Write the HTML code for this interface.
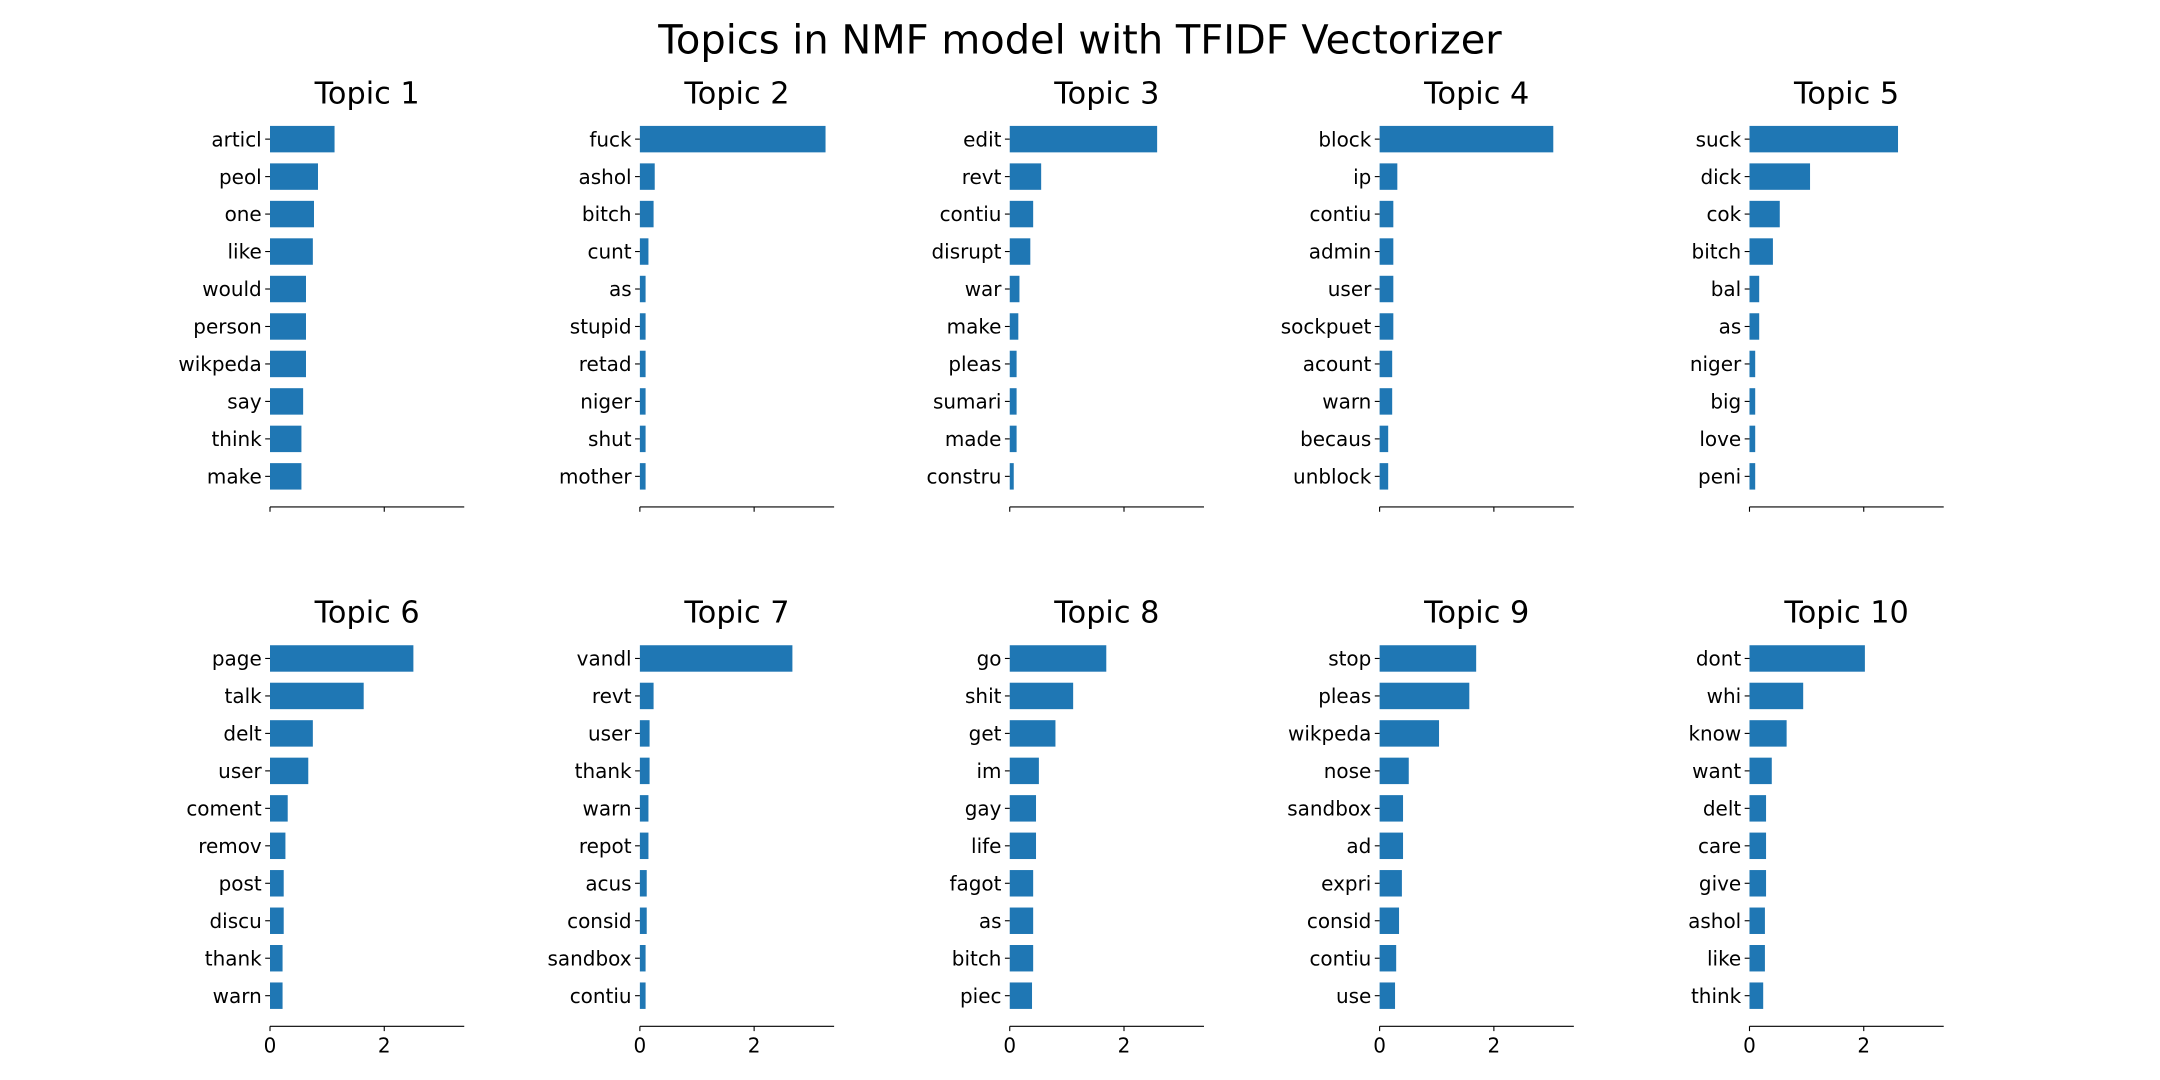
<!DOCTYPE html>
<html><head><meta charset="utf-8"><style>
html,body{margin:0;padding:0;background:#fff;}
svg{display:block;font-family:"DejaVu Sans","Liberation Sans",sans-serif;}
</style></head><body>
<svg id="chart" width="2160" height="1080" viewBox="0 0 1568 784" xmlns="http://www.w3.org/2000/svg">
<rect width="1568" height="784" fill="#fff"/>
<text x="784" y="39" font-size="29" text-anchor="middle" fill="#000">Topics in NMF model with TFIDF Vectorizer</text>
</svg>
<script>
const topicTitles = ["Topic 1","Topic 2","Topic 3","Topic 4","Topic 5","Topic 6","Topic 7","Topic 8","Topic 9","Topic 10"];
const topicWords = [
 ["articl","peol","one","like","would","person","wikpeda","say","think","make"],
 ["fuck","ashol","bitch","cunt","as","stupid","retad","niger","shut","mother"],
 ["edit","revt","contiu","disrupt","war","make","pleas","sumari","made","constru"],
 ["block","ip","contiu","admin","user","sockpuet","acount","warn","becaus","unblock"],
 ["suck","dick","cok","bitch","bal","as","niger","big","love","peni"],
 ["page","talk","delt","user","coment","remov","post","discu","thank","warn"],
 ["vandl","revt","user","thank","warn","repot","acus","consid","sandbox","contiu"],
 ["go","shit","get","im","gay","life","fagot","as","bitch","piec"],
 ["stop","pleas","wikpeda","nose","sandbox","ad","expri","consid","contiu","use"],
 ["dont","whi","know","want","delt","care","give","ashol","like","think"]
];
const topicWeights = [
 [1.13,0.84,0.77,0.75,0.63,0.63,0.63,0.58,0.55,0.55],
 [3.25,0.26,0.24,0.15,0.10,0.10,0.10,0.10,0.10,0.10],
 [2.58,0.55,0.41,0.36,0.17,0.15,0.12,0.12,0.12,0.07],
 [3.04,0.31,0.24,0.24,0.24,0.24,0.22,0.22,0.15,0.15],
 [2.60,1.06,0.53,0.41,0.17,0.17,0.10,0.10,0.10,0.10],
 [2.51,1.64,0.75,0.67,0.31,0.27,0.24,0.24,0.22,0.22],
 [2.67,0.24,0.17,0.17,0.15,0.15,0.12,0.12,0.10,0.10],
 [1.69,1.11,0.80,0.51,0.46,0.46,0.41,0.41,0.41,0.39],
 [1.69,1.57,1.04,0.51,0.41,0.41,0.39,0.34,0.29,0.27],
 [2.02,0.94,0.65,0.39,0.29,0.29,0.29,0.27,0.27,0.24]
];
const xTicks = [0, 2];
const xMax = 3.4;

const NS = "http://www.w3.org/2000/svg";
const svg = document.getElementById("chart");
const colX = [196, 464.5, 733, 1001.5, 1270];
const axW = 141;
const rowTop = [101, 478];
const rowAxisY = [368, 745];
const rowTitleY = [75, 452];
const step = 27.2, barH = 19.2;
function mk(tag, attrs){ const e=document.createElementNS(NS,tag); for(const k in attrs) e.setAttribute(k,attrs[k]); return e; }

topicTitles.forEach((title, t) => {
  const col = t % 5, row = Math.floor(t / 5);
  const x0 = colX[col];
  const xs = v => x0 + v / xMax * axW;
  const ys = i => rowTop[row] + i * step;
  const g = mk("g", {});
  
  
  svg.appendChild(g);
  const tt = mk("text", {x: x0 + axW/2, y: rowTitleY[row], "font-size": 22, "text-anchor": "middle", fill: "#000"});
  
  
  tt.textContent = title;
  g.appendChild(tt);
  topicWords[t].forEach((w, i) => {
    const v = topicWeights[t][i];
    const cy = ys(i);
    const r = mk("rect", {x: xs(0), y: cy - barH/2, width: xs(v) - xs(0), height: barH, fill: "#1f77b4"});
    
    
    g.appendChild(r);
    const tk = mk("line", {x1: x0 - 3.5, x2: x0, y1: cy, y2: cy, stroke: "#000", "stroke-width": 0.8});
    
    
    g.appendChild(tk);
    const lb = mk("text", {x: x0 - 6, y: cy + 5.2, "font-size": 14.5, "text-anchor": "end", fill: "#000"});
    
    
    lb.textContent = w;
    g.appendChild(lb);
  });
  const ax = mk("line", {x1: x0, x2: x0 + axW, y1: rowAxisY[row], y2: rowAxisY[row], stroke: "#000", "stroke-width": 0.8});
  
  
  g.appendChild(ax);
  xTicks.forEach(v => {
    const l = mk("line", {x1: xs(v), x2: xs(v), y1: rowAxisY[row], y2: rowAxisY[row] + 3.5, stroke: "#000", "stroke-width": 0.8});
    
    
    g.appendChild(l);
    if (row === 1) {
      const tl = mk("text", {x: xs(v), y: rowAxisY[row] + 19, "font-size": 14.5, "text-anchor": "middle", fill: "#000"});
      
      
      tl.textContent = String(v);
      g.appendChild(tl);
    }
  });
});
</script>
</body></html>
